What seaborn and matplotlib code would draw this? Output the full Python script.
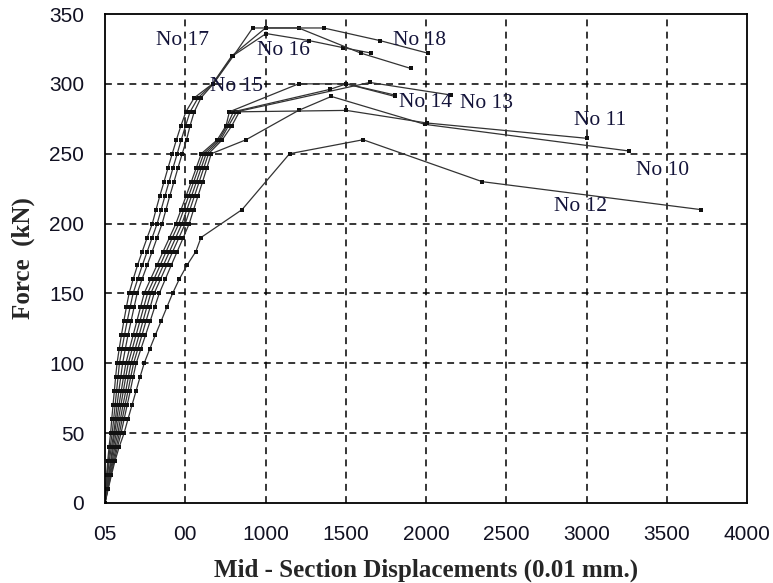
import matplotlib
matplotlib.use("Agg")
import matplotlib.pyplot as plt
import seaborn as sns
import pandas as pd

# ---- data (displacement in 0.01 mm, force in kN) ----
asc_y = [0, 10, 20, 30, 40, 50, 60, 70, 80, 90, 100, 110, 120, 130, 140, 150,
         160, 170, 180, 190, 200, 210, 220, 230, 240, 250, 260, 270, 280]

no17_x = [0, 5, 10, 17, 25, 35, 42, 50, 58, 66, 75, 88, 102, 117, 133, 150,
          175, 202, 232, 263, 295, 318, 342, 368, 393, 419, 445, 473, 504,
          556, 670, 790, 1000, 1206, 1594, 1906]
no17_y = asc_y + [290, 300, 320, 340, 340, 322, 311]

no16_x = [0, 6, 13, 21, 32, 45, 54, 63, 72, 81, 90, 105, 121, 138, 156, 175,
          203, 232, 263, 294, 325, 350, 374, 399, 424, 450, 475, 502, 530,
          580, 672, 795, 1004, 1270, 1480, 1660]
no16_y = asc_y + [290, 300, 320, 336, 331, 326, 322]

no18_x = [0, 8, 16, 26, 40, 55, 65, 75, 86, 98, 110, 126, 143, 162, 181, 200,
          230, 262, 294, 325, 356, 380, 404, 430, 455, 481, 508, 530, 556,
          598, 675, 800, 920, 1000, 1362, 1712, 2010]
no18_y = asc_y + [290, 300, 320, 340, 340, 340, 331, 322]

no15_x = [0, 10, 22, 35, 47, 60, 73, 87, 101, 115, 130, 152, 175, 198, 221, 244,
          283, 323, 362, 402, 442, 474, 506, 538, 569, 600, 700, 754, 775,
          1206, 1504, 1806]
no15_y = asc_y + [300, 300, 291]

no14_x = [0, 12, 25, 39, 53, 70, 84, 99, 114, 129, 145, 169, 193, 217, 241, 265,
          304, 343, 381, 420, 460, 491, 522, 553, 584, 615, 710, 760, 800,
          1400, 1504, 1806]
no14_y = asc_y + [296, 300, 292]

no13_x = [0, 14, 29, 45, 61, 80, 96, 112, 129, 145, 162, 187, 212, 236, 260, 285,
          324, 363, 402, 441, 480, 510, 540, 570, 600, 630, 720, 770, 820,
          1650, 2156]
no13_y = asc_y + [301, 292]

no11_x = [0, 16, 33, 51, 70, 90, 107, 125, 143, 160, 178, 204, 230, 255, 281, 306,
          345, 384, 422, 461, 500, 529, 558, 587, 616, 645, 731, 790, 837,
          1504, 2004, 3004]
no11_y = asc_y + [281, 272, 261]

no10_x = [0, 18, 37, 57, 78, 100, 119, 138, 157, 175, 194, 223, 252, 281, 309, 338,
          375, 412, 450, 488, 525, 552, 580, 608, 635, 662, 879,
          1206, 1410, 1994, 3262]
no10_y = asc_y[:27] + [281, 291, 271, 252]

no12_x = [0, 20, 40, 62, 88, 119, 143, 168, 193, 218, 244, 278, 313, 349, 385,
          421, 462, 510, 566, 598, 854, 1150, 1608, 2350, 3712]
no12_y = asc_y[:20] + [210, 250, 260, 230, 210]

specimens = ["No 10", "No 11", "No 12", "No 13", "No 14", "No 15", "No 16", "No 17", "No 18"]
xs = [no10_x, no11_x, no12_x, no13_x, no14_x, no15_x, no16_x, no17_x, no18_x]
ys = [no10_y, no11_y, no12_y, no13_y, no14_y, no15_y, no16_y, no17_y, no18_y]

label_text = ["No 17", "No 16", "No 18", "No 15", "No 14", "No 13", "No 11", "No 10", "No 12"]
label_x = [319, 944, 1794, 656, 1831, 2212, 2925, 3306, 2800]
label_y = [331, 324, 331, 298, 287, 286, 274, 238, 212]

x_ticks = [0, 500, 1000, 1500, 2000, 2500, 3000, 3500, 4000]
x_ticklabels = ["05", "00", "1000", "1500", "2000", "2500", "3000", "3500", "4000"]
y_ticks = [0, 50, 100, 150, 200, 250, 300, 350]

rows = []
for name, xv, yv in zip(specimens, xs, ys):
    for i, (a, b) in enumerate(zip(xv, yv)):
        rows.append({"specimen": name, "order": i, "disp": a, "force": b})
df = pd.DataFrame(rows)

# ---- plot ----
sns.set_theme(style="white")
plt.rcParams["font.family"] = ["Liberation Sans", "DejaVu Sans"]

fig = plt.figure(figsize=(7.73, 5.83), dpi=100)
ax = fig.add_axes([105 / 773, 80 / 583, 642 / 773, 489 / 583])

sns.lineplot(data=df, x="disp", y="force", units="specimen", estimator=None,
             sort=False, color="#333333", linewidth=0.9, marker="s",
             markersize=2.6, markeredgewidth=0, markerfacecolor="#111111",
             ax=ax, legend=False)

ax.set_xlim(0, 4000)
ax.set_ylim(0, 350)
ax.set_xticks(x_ticks)
ax.set_xticklabels(x_ticklabels)
ax.set_yticks(y_ticks)
ax.tick_params(axis="both", direction="out", length=7, width=1.0, color="#777777",
               labelsize=15, labelcolor="#111122")
ax.tick_params(axis="x", pad=9)
ax.tick_params(axis="y", pad=8)

for v in x_ticks[1:-1]:
    ax.axvline(v, color="black", linestyle=(0, (4.5, 3.5)), linewidth=1.1, zorder=0)
for v in y_ticks[1:-1]:
    ax.axhline(v, color="black", linestyle=(0, (4.5, 3.5)), linewidth=1.1, zorder=0)

for s in ax.spines.values():
    s.set_visible(True)
    s.set_color("black")
    s.set_linewidth(1.3)

ax.set_xlabel("Mid - Section Displacements (0.01 mm.)", fontsize=18,
              fontweight="bold", family="Liberation Serif", labelpad=10)
ax.set_ylabel("Force  (kN)", fontsize=18, fontweight="bold",
              family="Liberation Serif", labelpad=10)

for t, lx, ly in zip(label_text, label_x, label_y):
    ax.text(lx, ly, t, fontsize=15.5, family="Liberation Serif", color="#14143a",
            ha="left", va="center")

fig.savefig("out.png", dpi=100)
